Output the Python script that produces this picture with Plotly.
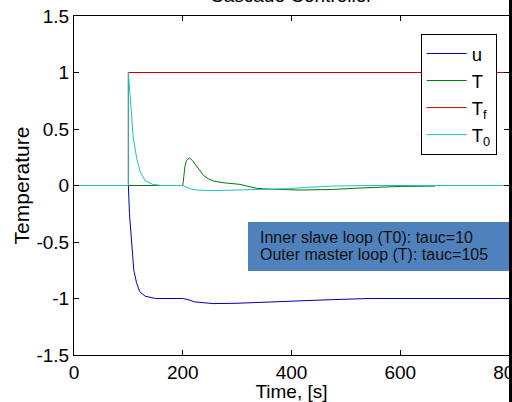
import plotly.graph_objects as go

# ---- data ----
t_u = [0, 100, 102, 106, 110, 115, 121, 131, 145, 150, 200, 210, 222, 256, 300, 348, 400, 440, 475, 543, 600, 800]
v_u = [0, 0, -0.25, -0.54, -0.75, -0.86, -0.94, -0.98, -0.995, -1.0, -1.0, -1.01, -1.03, -1.045, -1.042, -1.035,
       -1.025, -1.015, -1.01, -1.0, -1.0, -1.0]

t_T = [0, 200, 202, 204, 207, 212, 218, 226, 232, 238, 247, 256, 274, 305, 336, 361, 416, 475, 513, 554, 600, 664]
v_T = [0, 0, 0.08, 0.17, 0.22, 0.245, 0.22, 0.17, 0.13, 0.09, 0.06, 0.04, 0.025, 0.01, -0.025, -0.033, -0.04,
       -0.035, -0.025, -0.015, -0.008, -0.005]

t_Tf = [0, 100, 100, 800]
v_Tf = [0, 0, 1, 1]

t_T0 = [0, 100, 100, 102, 106, 109, 115, 121, 131, 145, 160, 200, 205, 215, 226, 256, 300, 350, 396, 430, 476, 541, 600, 800]
v_T0 = [0, 0, 1, 0.86, 0.6, 0.42, 0.25, 0.13, 0.04, 0.01, 0, 0, -0.01, -0.03, -0.04, -0.045, -0.04, -0.035, -0.028,
        -0.016, -0.005, 0, 0, 0]

x_ticks = [0, 200, 400, 600, 800]
y_ticks = [-1.5, -1, -0.5, 0, 0.5, 1, 1.5]
y_labels = ["-1.5", "-1", "-0.5", "0", "0.5", "1", "1.5"]

title_text = "Cascade Controller"
note_lines = ["Inner slave loop (T0): tauc=10", "Outer master loop (T): tauc=105"]

FONT = "Liberation Sans, Arial, Helvetica, sans-serif"
AXFONT = dict(family=FONT, size=19, color="black")

fig = go.Figure()
fig.add_trace(go.Scatter(x=t_u, y=v_u, mode="lines", name="u", line=dict(color="#0000B0", width=1)))
fig.add_trace(go.Scatter(x=t_T, y=v_T, mode="lines", name="T", line=dict(color="#007A00", width=1)))
fig.add_trace(go.Scatter(x=t_Tf, y=v_Tf, mode="lines", name="T<sub>f</sub>", line=dict(color="#C80000", width=1)))
fig.add_trace(go.Scatter(x=t_T0, y=v_T0, mode="lines", name="T<sub>0</sub>", line=dict(color="#22BFBF", width=1)))

axis_common = dict(showline=True, linecolor="black", linewidth=1, mirror="ticks", ticks="inside",
                   ticklen=5, tickcolor="black", showgrid=False, zeroline=False, automargin=False,
                   ticklabeloverflow="allow", tickfont=AXFONT)

fig.update_layout(
    width=512, height=402,
    margin=dict(l=74, r=3, t=16, b=47, autoexpand=False),
    paper_bgcolor="white", plot_bgcolor="white",
    font=dict(family=FONT, size=19, color="black"),
    showlegend=True,
    legend=dict(x=0.797, y=0.947, xanchor="left", yanchor="top", bgcolor="white",
                bordercolor="black", borderwidth=1, font=dict(family=FONT, size=18.5, color="black"),
                tracegroupgap=0, itemwidth=40),
    xaxis=dict(range=[0, 800], tickvals=x_ticks, title=dict(text="Time, [s]", standoff=2, font=AXFONT),
               **axis_common),
    yaxis=dict(range=[-1.5, 1.5], tickvals=y_ticks, ticktext=y_labels,
               title=dict(text="Temperature", standoff=1, font=dict(family=FONT, size=21, color="black")),
               **axis_common),
)

# title, mostly cut off at the top as in the reference
fig.add_annotation(text=title_text, xref="paper", yref="paper", x=0.5, y=1.061, xanchor="center",
                   yanchor="middle", showarrow=False, font=dict(family=FONT, size=19, color="black"))

# blue note box
fig.add_shape(type="rect", xref="paper", yref="paper", x0=0.4, x1=1.0, y0=0.248, y1=0.392,
              fillcolor="#4F81BD", line=dict(width=0), layer="above")
for line_text, ypos in zip(note_lines, [0.348, 0.295]):
    fig.add_annotation(text=line_text, xref="paper", yref="paper", x=(258 - 74) / 435, y=ypos,
                       xanchor="left", yanchor="middle", align="left", showarrow=False,
                       font=dict(family=FONT, size=16, color="#111111"))

# thick black border at the right edge of the picture
fig.add_shape(type="line", xref="paper", yref="paper", x0=1.0035, x1=1.0035, y0=-0.2, y1=1.1,
              line=dict(color="black", width=3))

fig.write_html("out.html", config={"displayModeBar": False},
               post_script="document.body.style.margin='0px';")
